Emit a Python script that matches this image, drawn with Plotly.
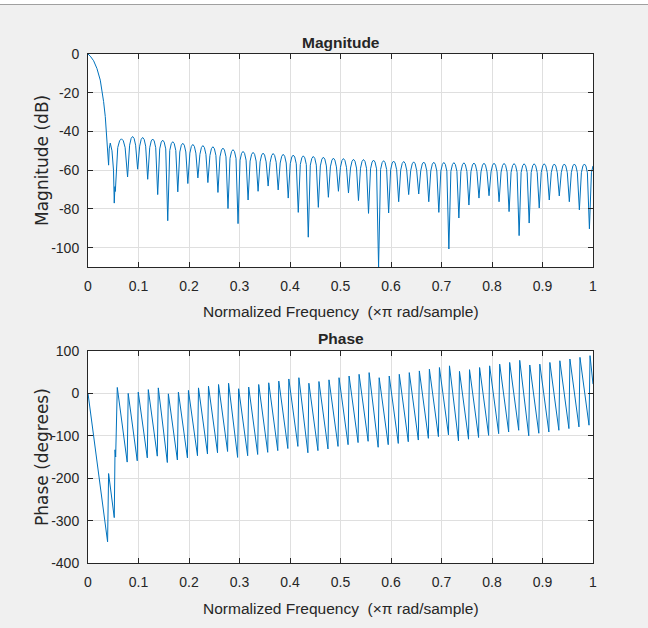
import plotly.graph_objects as go

# ---------------- data ----------------
freq_ticks = [0, 0.1, 0.2, 0.3, 0.4, 0.5, 0.6, 0.7, 0.8, 0.9, 1]
freq_ticklabels = ["0", "0.1", "0.2", "0.3", "0.4", "0.5", "0.6", "0.7", "0.8", "0.9", "1"]
mag_ticks = [-100, -80, -60, -40, -20, 0]
mag_ticklabels = ["-100", "-80", "-60", "-40", "-20", "0"]
phase_ticks = [-400, -300, -200, -100, 0, 100]
phase_ticklabels = ["-400", "-300", "-200", "-100", "0", "100"]

mag_freq = [
    0.0, 0.0045, 0.0111, 0.0177, 0.0243, 0.0276, 0.0309, 0.0342, 0.0375, 0.0395, 0.0408,
    0.0420, 0.0441, 0.0475, 0.0505, 0.0520, 0.0533, 0.0541,
    0.0589, 0.0626, 0.0662, 0.0699, 0.0735, 0.0784,
    0.0824, 0.0854, 0.0883, 0.0913, 0.0943, 0.0983,
    0.1023, 0.1053, 0.1082, 0.1112, 0.1142, 0.1182,
    0.1222, 0.1252, 0.1281, 0.1311, 0.1341, 0.1380,
    0.1420, 0.1450, 0.1479, 0.1509, 0.1539, 0.1579,
    0.1619, 0.1649, 0.1678, 0.1708, 0.1738, 0.1778,
    0.1818, 0.1848, 0.1877, 0.1907, 0.1937, 0.1977,
    0.2017, 0.2047, 0.2076, 0.2106, 0.2136, 0.2176,
    0.2216, 0.2246, 0.2275, 0.2305, 0.2335, 0.2374,
    0.2414, 0.2444, 0.2473, 0.2503, 0.2533, 0.2573,
    0.2613, 0.2643, 0.2672, 0.2702, 0.2732, 0.2772,
    0.2812, 0.2842, 0.2871, 0.2901, 0.2931, 0.2971,
    0.3011, 0.3041, 0.3070, 0.3100, 0.3130, 0.3170,
    0.3210, 0.3240, 0.3269, 0.3299, 0.3329, 0.3368,
    0.3408, 0.3438, 0.3467, 0.3497, 0.3527, 0.3567,
    0.3607, 0.3637, 0.3666, 0.3696, 0.3726, 0.3766,
    0.3806, 0.3836, 0.3865, 0.3895, 0.3925, 0.3965,
    0.4005, 0.4035, 0.4064, 0.4094, 0.4124, 0.4164,
    0.4204, 0.4234, 0.4263, 0.4293, 0.4323, 0.4362,
    0.4402, 0.4432, 0.4461, 0.4491, 0.4521, 0.4561,
    0.4601, 0.4631, 0.4660, 0.4690, 0.4720, 0.4760,
    0.4800, 0.4830, 0.4859, 0.4889, 0.4919, 0.4959,
    0.4999, 0.5029, 0.5058, 0.5088, 0.5118, 0.5158,
    0.5198, 0.5228, 0.5257, 0.5287, 0.5317, 0.5356,
    0.5396, 0.5426, 0.5455, 0.5485, 0.5515, 0.5555,
    0.5595, 0.5625, 0.5654, 0.5684, 0.5714, 0.5754,
    0.5794, 0.5824, 0.5853, 0.5883, 0.5913, 0.5953,
    0.5993, 0.6023, 0.6052, 0.6082, 0.6112, 0.6152,
    0.6192, 0.6222, 0.6251, 0.6281, 0.6311, 0.6350,
    0.6390, 0.6420, 0.6449, 0.6479, 0.6509, 0.6549,
    0.6589, 0.6619, 0.6648, 0.6678, 0.6708, 0.6748,
    0.6788, 0.6818, 0.6847, 0.6877, 0.6907, 0.6947,
    0.6987, 0.7017, 0.7046, 0.7076, 0.7106, 0.7146,
    0.7186, 0.7216, 0.7245, 0.7275, 0.7305, 0.7344,
    0.7384, 0.7414, 0.7443, 0.7473, 0.7503, 0.7543,
    0.7583, 0.7613, 0.7642, 0.7672, 0.7702, 0.7742,
    0.7782, 0.7812, 0.7841, 0.7871, 0.7901, 0.7941,
    0.7981, 0.8011, 0.8040, 0.8070, 0.8100, 0.8140,
    0.8180, 0.8210, 0.8239, 0.8269, 0.8299, 0.8338,
    0.8378, 0.8408, 0.8437, 0.8467, 0.8497, 0.8537,
    0.8577, 0.8607, 0.8636, 0.8666, 0.8696, 0.8736,
    0.8776, 0.8806, 0.8835, 0.8865, 0.8895, 0.8935,
    0.8975, 0.9005, 0.9034, 0.9064, 0.9094, 0.9134,
    0.9174, 0.9204, 0.9233, 0.9263, 0.9293, 0.9332,
    0.9372, 0.9402, 0.9431, 0.9461, 0.9491, 0.9531,
    0.9571, 0.9601, 0.9630, 0.9660, 0.9690, 0.9730,
    0.9770, 0.9800, 0.9829, 0.9859, 0.9889, 0.9929,
    0.9969, 1.0,
]

mag_db = [
    0.0, -1.1, -3.5, -7.5, -13.5, -18.6, -24.6, -32.3, -42.6, -53.0, -57.4,
    -49.0, -46.0, -50.0, -60.0, -77.0, -68.5, -71.0,
    -48.3, -44.8, -43.8, -44.8, -48.3, -63.5,
    -47.1, -43.6, -42.6, -43.6, -47.1, -59.5,
    -47.6, -44.1, -43.1, -44.1, -47.6, -64.7,
    -48.4, -44.9, -43.9, -44.9, -48.4, -72.6,
    -49.0, -45.5, -44.5, -45.5, -49.0, -86.1,
    -49.8, -46.3, -45.3, -46.3, -49.8, -71.2,
    -50.6, -47.1, -46.1, -47.1, -50.6, -66.9,
    -51.2, -47.7, -46.7, -47.7, -51.2, -64.0,
    -51.8, -48.3, -47.3, -48.3, -51.8, -66.4,
    -52.4, -48.9, -47.9, -48.9, -52.4, -71.5,
    -53.1, -49.6, -48.6, -49.6, -53.1, -79.8,
    -53.9, -50.4, -49.4, -50.4, -53.9, -87.6,
    -54.8, -51.3, -50.3, -51.3, -54.8, -75.4,
    -55.3, -51.8, -50.8, -51.8, -55.3, -70.9,
    -55.7, -52.2, -51.2, -52.2, -55.7, -68.2,
    -55.9, -52.4, -51.4, -52.4, -55.9, -70.2,
    -56.3, -52.8, -51.8, -52.8, -56.3, -74.4,
    -56.7, -53.2, -52.2, -53.2, -56.7, -81.8,
    -57.1, -53.6, -52.6, -53.6, -57.1, -94.6,
    -57.4, -53.9, -52.9, -53.9, -57.4, -79.2,
    -57.8, -54.3, -53.3, -54.3, -57.8, -74.0,
    -58.3, -54.8, -53.8, -54.8, -58.3, -70.9,
    -58.5, -55.0, -54.0, -55.0, -58.5, -71.8,
    -58.9, -55.4, -54.4, -55.4, -58.9, -75.7,
    -59.0, -55.5, -54.5, -55.5, -59.0, -82.3,
    -59.3, -55.8, -54.8, -55.8, -59.3, -110.0,
    -59.6, -56.1, -55.1, -56.1, -59.6, -82.1,
    -59.8, -56.3, -55.3, -56.3, -59.8, -76.3,
    -60.0, -56.5, -55.5, -56.5, -60.0, -72.6,
    -60.2, -56.7, -55.7, -56.7, -60.2, -72.3,
    -60.3, -56.8, -55.8, -56.8, -60.3, -76.3,
    -60.4, -56.9, -55.9, -56.9, -60.4, -81.8,
    -60.5, -57.0, -56.0, -57.0, -60.5, -100.7,
    -60.6, -57.1, -56.1, -57.1, -60.6, -84.7,
    -60.7, -57.2, -56.2, -57.2, -60.7, -78.0,
    -60.8, -57.3, -56.3, -57.3, -60.8, -74.4,
    -60.9, -57.4, -56.4, -57.4, -60.9, -73.2,
    -60.9, -57.4, -56.4, -57.4, -60.9, -76.3,
    -61.0, -57.5, -56.5, -57.5, -61.0, -81.4,
    -61.1, -57.6, -56.6, -57.6, -61.1, -93.8,
    -61.2, -57.7, -56.7, -57.7, -61.2, -87.3,
    -61.2, -57.7, -56.7, -57.7, -61.2, -79.5,
    -61.2, -57.7, -56.7, -57.7, -61.2, -75.4,
    -61.3, -57.8, -56.8, -57.8, -61.3, -73.3,
    -61.3, -57.8, -56.8, -57.8, -61.3, -76.3,
    -61.3, -57.8, -56.8, -57.8, -61.3, -80.5,
    -61.3, -57.8, -56.8, -57.8, -61.3, -90.3,
    -61.3, -57.8,
]

phase_freq = [
    0.0, 0.0388, 0.0408, 0.0520, 0.0535, 0.0548, 0.0580,
    0.0776, 0.0796, 0.0975, 0.0995, 0.1174, 0.1194, 0.1372, 0.1392,
    0.1571, 0.1591, 0.1770, 0.1790, 0.1969, 0.1989, 0.2168, 0.2188,
    0.2366, 0.2386, 0.2565, 0.2585, 0.2764, 0.2784, 0.2963, 0.2983,
    0.3162, 0.3182, 0.3360, 0.3380, 0.3559, 0.3579, 0.3758, 0.3778,
    0.3957, 0.3977, 0.4156, 0.4176, 0.4354, 0.4374, 0.4553, 0.4573,
    0.4752, 0.4772, 0.4951, 0.4971, 0.5150, 0.5170, 0.5348, 0.5368,
    0.5547, 0.5567, 0.5746, 0.5766, 0.5945, 0.5965, 0.6144, 0.6164,
    0.6342, 0.6362, 0.6541, 0.6561, 0.6740, 0.6760, 0.6939, 0.6959,
    0.7138, 0.7158, 0.7336, 0.7356, 0.7535, 0.7555, 0.7734, 0.7754,
    0.7933, 0.7953, 0.8132, 0.8152, 0.8330, 0.8350, 0.8529, 0.8549,
    0.8728, 0.8748, 0.8927, 0.8947, 0.9126, 0.9146, 0.9324, 0.9344,
    0.9523, 0.9543, 0.9722, 0.9742, 0.9921, 0.9941, 1.0,
]

phase_deg = [
    0, -350, -189, -293, -133, -150, 14,
    -162, 0, -159, 3, -152, 9, -148, 13,
    -163, -1, -157, 3, -152, 7, -147, 13,
    -143, 17, -140, 21, -137, 24, -151, 11,
    -147, 15, -144, 21, -139, 25, -135, 29,
    -130, 34, -125, 37, -140, 24, -135, 28,
    -131, 32, -125, 37, -121, 41, -116, 45,
    -113, 49, -127, 37, -121, 41, -118, 45,
    -114, 49, -110, 53, -106, 57, -102, 61,
    -98, 65, -112, 52, -108, 56, -104, 61,
    -99, 65, -95, 69, -91, 73, -87, 78,
    -100, 67, -94, 69, -91, 73, -87, 77,
    -83, 81, -79, 85, -75, 89, 22,
]

assert len(mag_freq) == len(mag_db)
assert len(phase_freq) == len(phase_deg)

# ---------------- styling ----------------
LINE = "#0072BD"
AX = "#262626"
GRID = "#dfdfdf"
SANS = "Liberation Sans, Arial, Helvetica, sans-serif"
TICKFONT = dict(family=SANS, size=14, color=AX)
LABELFONT = dict(family=SANS, size=15.5, color=AX)
YLABELFONT = dict(family="DejaVu Sans, Liberation Sans, Arial", size=17, color=AX)

fig = go.Figure()
fig.add_trace(go.Scatter(x=mag_freq, y=mag_db, mode="lines",
                         line=dict(color=LINE, width=1), xaxis="x", yaxis="y",
                         showlegend=False, hoverinfo="skip"))
fig.add_trace(go.Scatter(x=phase_freq, y=phase_deg, mode="lines",
                         line=dict(color=LINE, width=1), xaxis="x2", yaxis="y2",
                         showlegend=False, hoverinfo="skip"))

common_x = dict(range=[0, 1], tickvals=freq_ticks, ticktext=freq_ticklabels,
                showgrid=True, gridcolor=GRID, gridwidth=1, zeroline=False,
                showline=True, linecolor=AX, linewidth=1, mirror="ticks",
                ticks="inside", ticklen=5, tickcolor=AX, tickwidth=1,
                tickfont=TICKFONT, ticklabelstandoff=6, fixedrange=True)
common_y = dict(showgrid=True, gridcolor=GRID, gridwidth=1, zeroline=False,
                showline=True, linecolor=AX, linewidth=1, mirror="ticks",
                ticks="inside", ticklen=5, tickcolor=AX, tickwidth=1,
                tickfont=TICKFONT, ticklabelstandoff=5, fixedrange=True)

W, H = 648, 628
ML, MR, MT, MB = 88, 55, 54, 65
ph = H - MT - MB


def py(p):
    return (H - MB - p) / ph


def px(p):
    return (p - ML) / (W - ML - MR)


fig.update_layout(
    width=W, height=H,
    margin=dict(l=ML, r=MR, t=MT, b=MB, pad=0),
    paper_bgcolor="#f0f0f0", plot_bgcolor="#ffffff",
    xaxis=dict(domain=[0, 1], anchor="y", **common_x),
    yaxis=dict(domain=[py(267), 1], anchor="x", range=[-110, 0],
               tickvals=mag_ticks, ticktext=mag_ticklabels, **common_y),
    xaxis2=dict(domain=[0, 1], anchor="y2", **common_x),
    yaxis2=dict(domain=[0, py(351)], anchor="x2", range=[-400, 100],
                tickvals=phase_ticks, ticktext=phase_ticklabels, **common_y),
    annotations=[
        dict(text="<b>Magnitude</b>", x=0.5, y=py(42), xref="paper", yref="paper",
             showarrow=False, xanchor="center", yanchor="middle", font=LABELFONT),
        dict(text="<b>Phase</b>", x=0.5, y=py(338), xref="paper", yref="paper",
             showarrow=False, xanchor="center", yanchor="middle", font=LABELFONT),
        dict(text="Normalized Frequency\u00a0 (\u00d7\u03c0 rad/sample)", x=px(341), y=py(311),
             xref="paper", yref="paper", showarrow=False, xanchor="center",
             yanchor="middle", font=LABELFONT),
        dict(text="Normalized Frequency\u00a0 (\u00d7\u03c0 rad/sample)", x=px(341), y=py(608),
             xref="paper", yref="paper", showarrow=False, xanchor="center",
             yanchor="middle", font=LABELFONT),
        dict(text="Magnitude (dB)", x=px(42), y=py(161), xref="paper", yref="paper",
             showarrow=False, xanchor="center", yanchor="middle", textangle=-90,
             font=YLABELFONT),
        dict(text="Phase (degrees)", x=px(42), y=py(457), xref="paper", yref="paper",
             showarrow=False, xanchor="center", yanchor="middle", textangle=-90,
             font=YLABELFONT),
    ],
    shapes=[
        dict(type="rect", xref="paper", yref="paper", x0=px(0), x1=px(648),
             y0=py(0), y1=py(4), fillcolor="#ffffff", line=dict(width=0), layer="below"),
        dict(type="line", xref="paper", yref="paper", x0=px(0), x1=px(648),
             y0=py(4.5), y1=py(4.5), line=dict(color="#a0a0a0", width=1)),
    ],
)

fig.write_html(
    "out.html",
    config={"displayModeBar": False, "staticPlot": True},
    post_script="document.body.style.margin='0';document.body.style.background='#f0f0f0';",
)
